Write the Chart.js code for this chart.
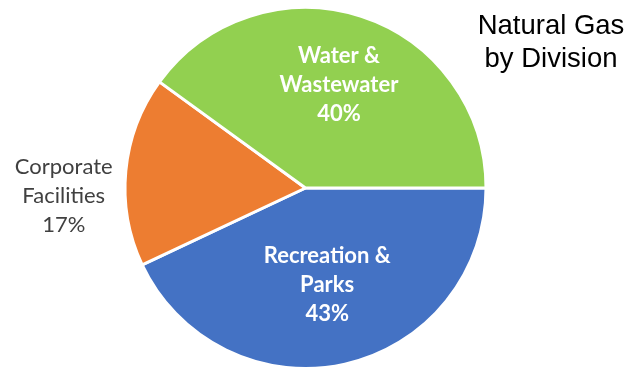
<!DOCTYPE html>
<html>
<head>
<meta charset="utf-8">
<script src="https://cdn.jsdelivr.net/npm/chart.js@4/dist/chart.umd.min.js"></script>
<style>
  html, body { margin: 0; padding: 0; background: #ffffff; }
  #wrap { width: 628px; height: 370px; position: relative; }
</style>
</head>
<body>
<div id="wrap"><canvas id="chart" width="628" height="370"></canvas></div>
<script>
// Natural gas use split by division (percent)
const divisions = ['Recreation & Parks', 'Corporate Facilities', 'Water & Wastewater'];
const labelLines = [['Recreation &', 'Parks'], ['Corporate', 'Facilities'], ['Water &', 'Wastewater']];
const shares = [43, 17, 40];
const sliceColors = ['#4472C4', '#ED7D31', '#92D050'];
const titleLines = ['Natural Gas', 'by Division'];

// Slice labels: drawn at a fraction of the radius along each slice's mid angle
const sliceLabels = {
  id: 'sliceLabels',
  afterDatasetsDraw(chart, args, opts) {
    const ctx = chart.ctx;
    const meta = chart.getDatasetMeta(0);
    meta.data.forEach((arc, i) => {
      const p = arc.getProps(['x', 'y', 'startAngle', 'endAngle', 'outerRadius'], true);
      const mid = (p.startAngle + p.endAngle) / 2 + (opts.angleShift[i] || 0);
      const r = p.outerRadius * opts.radius[i];
      const cx = p.x + Math.cos(mid) * r;
      const cy = p.y + Math.sin(mid) * r;
      const lines = labelLines[i].concat([shares[i] + '%']);
      const inside = opts.radius[i] < 1;
      ctx.save();
      ctx.font = (inside ? 'bold ' : '') + opts.size + 'px ' + opts.family;
      ctx.fillStyle = inside ? '#ffffff' : '#404040';
      ctx.textAlign = 'center';
      ctx.textBaseline = 'middle';
      const lh = opts.lineHeight;
      lines.forEach((t, k) => {
        ctx.fillText(t, cx, cy + (k - (lines.length - 1) / 2) * lh);
      });
      ctx.restore();
    });
  }
};

// Two-line heading at the upper right
const cornerTitle = {
  id: 'cornerTitle',
  afterDraw(chart) {
    const ctx = chart.ctx;
    ctx.save();
    ctx.font = '27.5px "Liberation Sans", Arial, sans-serif';
    ctx.fillStyle = '#000000';
    ctx.textAlign = 'center';
    ctx.textBaseline = 'alphabetic';
    ctx.fillText(titleLines[0], 551, 34);
    ctx.fillText(titleLines[1], 551, 67);
    ctx.restore();
  }
};

new Chart(document.getElementById('chart'), {
  type: 'pie',
  data: {
    labels: divisions,
    datasets: [{
      data: shares,
      backgroundColor: sliceColors,
      borderColor: '#ffffff',
      borderWidth: 3
    }]
  },
  options: {
    responsive: false,
    animation: false,
    rotation: 90,
    layout: { padding: { left: 121, right: 138, top: 6, bottom: -4 } },
    plugins: {
      legend: { display: false },
      tooltip: { enabled: false },
      sliceLabels: {
        radius: [0.55, 1.34, 0.6],
        angleShift: [0, -0.125, 0],
        size: 22,
        lineHeight: 29,
        family: 'Lato, "Open Sans", sans-serif'
      }
    }
  },
  plugins: [sliceLabels, cornerTitle]
});
</script>
</body>
</html>
